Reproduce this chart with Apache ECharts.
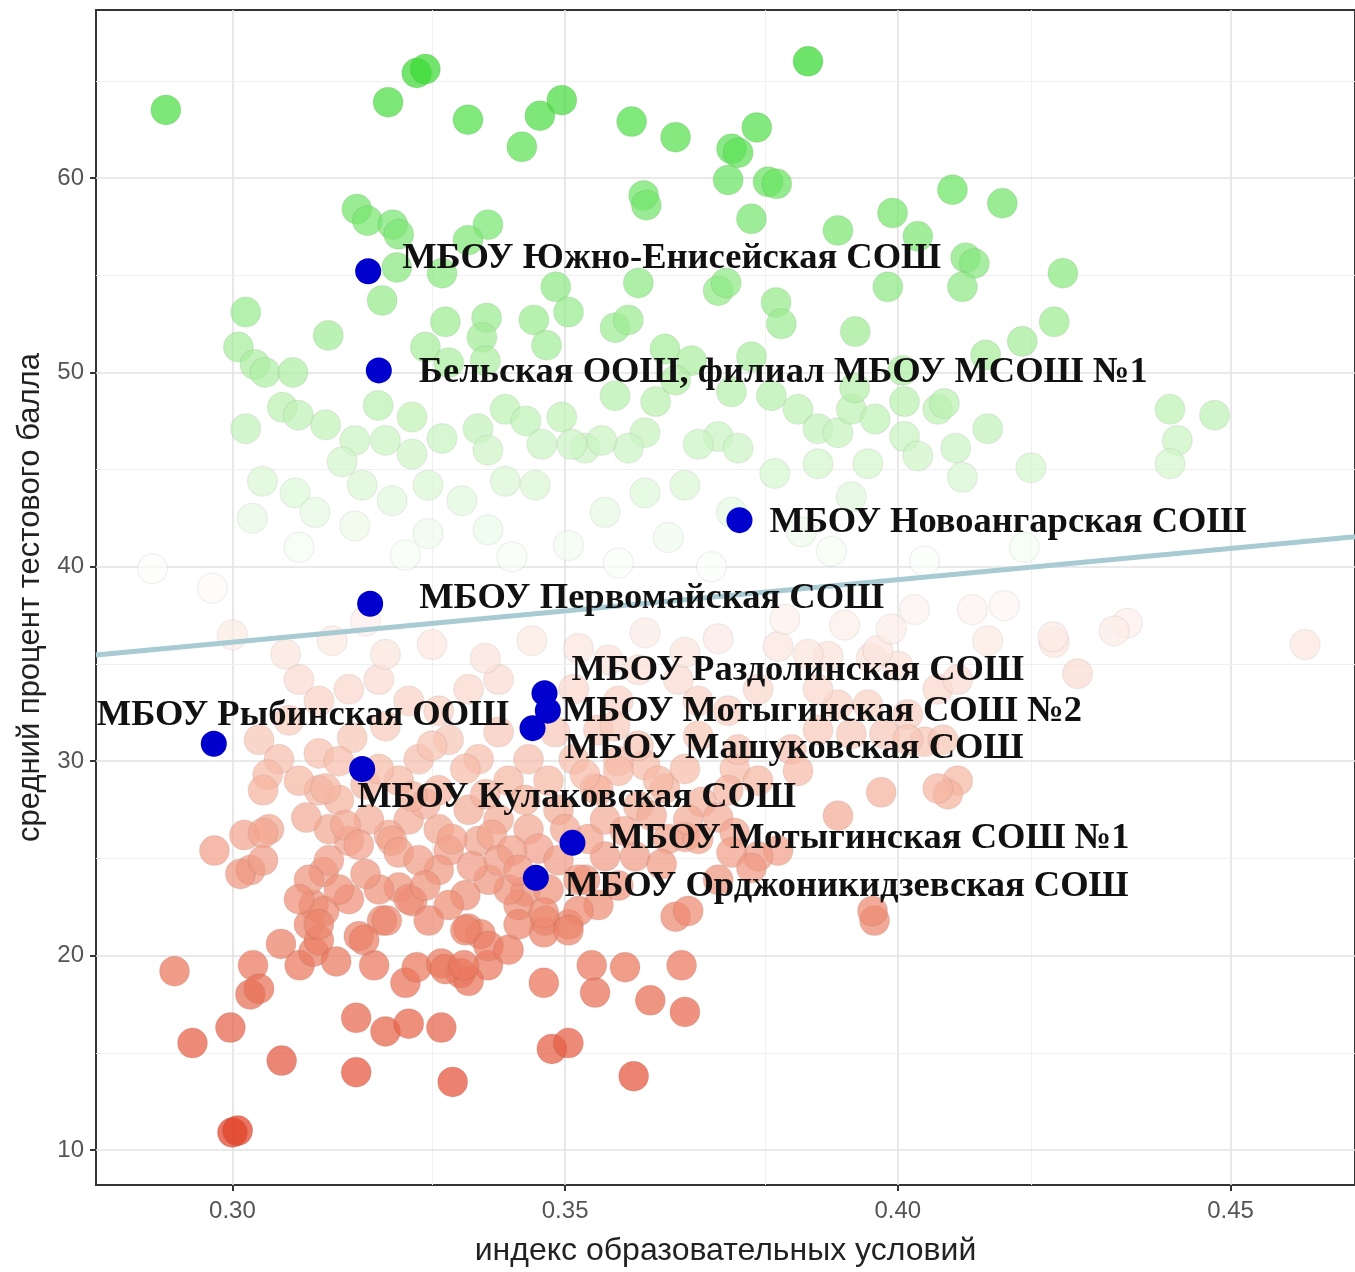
<!DOCTYPE html>
<html><head><meta charset="utf-8">
<script src="https://cdn.jsdelivr.net/npm/echarts@6/dist/echarts.min.js"></script>
<style>html,body{margin:0;padding:0;background:#fff}#chart{width:1355px;height:1272px}</style>
</head><body><div id="chart"></div>
<script>
// ---- data ----
const xTicks = [0.30, 0.35, 0.40, 0.45];
const xMinorTicks = [0.325, 0.375, 0.425];
const yTicks = [10, 20, 30, 40, 50, 60];
const yMinorTicks = [15, 25, 35, 45, 55, 65];
const xRange = [0.2795, 0.4687];
const yRange = [8.2, 68.64];

const pointsHigh = [
[0.2900,63.5],[0.3277,65.4],[0.3290,65.6],[0.3234,63.9],[0.3354,63.0],[0.3462,63.2],[0.3495,64.0],[0.3435,61.6],
[0.3600,62.9],[0.3666,62.1],[0.3788,62.6],[0.3750,61.5],[0.3760,61.3],[0.3865,66.0],[0.3618,59.1],[0.3622,58.6],
[0.3745,59.9],[0.3805,59.8],[0.3818,59.7],[0.3780,57.9],[0.3187,58.4],[0.3203,57.8],[0.3241,57.6],[0.3250,57.1],
[0.3384,57.6],[0.3354,56.8],[0.3910,57.3],[0.3992,58.2],[0.4030,57.0],[0.4082,59.4],[0.4157,58.7],[0.4102,55.9],
[0.4115,55.6],[0.4097,54.4],[0.4248,55.1],[0.4235,52.6],[0.4187,51.6],[0.4132,50.9],[0.3247,55.4],[0.3315,55.1],
[0.3225,53.7],[0.3020,53.1],[0.3144,51.9],[0.3320,52.6],[0.3382,52.8],[0.3009,51.3],[0.3034,50.4],[0.3049,50.0],
[0.3091,50.0],[0.3290,51.3],[0.3375,51.8],[0.3380,50.6],[0.3486,54.4],[0.3610,54.6],[0.3730,54.2],[0.3742,54.6],
[0.3817,53.6],[0.3825,52.5],[0.3985,54.4],[0.3936,52.1],[0.3453,52.7],[0.3505,53.1],[0.3575,52.3],[0.3595,52.7],
[0.3472,51.4],[0.3650,51.2],[0.3690,50.6],[0.3780,50.8],[0.3325,50.5],[0.4007,50.1]
];
const pointsUpperMid = [
[0.3219,48.3],[0.3270,47.7],[0.3315,46.6],[0.3369,47.1],[0.3410,48.1],[0.3075,48.2],[0.3099,47.8],[0.3140,47.3],
[0.3020,47.1],[0.3184,46.5],[0.3230,46.5],[0.3165,45.4],[0.3270,45.8],[0.3384,46.0],[0.3045,44.4],[0.3094,43.8],
[0.3124,42.8],[0.3195,44.2],[0.3240,43.4],[0.3294,44.2],[0.3345,43.4],[0.3410,44.4],[0.3030,42.5],[0.3184,42.1],
[0.3294,41.7],[0.3384,41.9],[0.2880,39.9],[0.2970,38.9],[0.3441,47.5],[0.3495,47.7],[0.3530,46.1],[0.3575,48.8],
[0.3636,48.5],[0.3666,49.6],[0.3750,49.0],[0.3810,48.8],[0.3850,48.1],[0.3880,47.1],[0.3910,46.9],[0.3930,48.1],
[0.3935,49.2],[0.3966,47.6],[0.4010,48.5],[0.4010,46.7],[0.4060,48.1],[0.3730,46.7],[0.3760,46.1],[0.3700,46.3],
[0.3620,46.9],[0.3595,46.1],[0.3555,46.5],[0.3510,46.3],[0.3465,46.3],[0.3455,44.2],[0.3620,43.8],[0.3680,44.2],
[0.3815,44.8],[0.3880,45.3],[0.3955,45.3],[0.4030,45.7],[0.3560,42.8],[0.3750,42.8],[0.3930,43.6],[0.3505,41.1],
[0.3655,41.5],[0.3855,41.8],[0.4135,47.1],[0.4087,46.1],[0.4200,45.1],[0.4409,48.1],[0.4476,47.8],[0.4420,46.5],
[0.4409,45.3],[0.4097,44.6],[0.4070,48.4],[0.3100,41.0],[0.3260,40.6],[0.3420,40.5],[0.3580,40.2],[0.3720,40.0],
[0.3900,40.8],[0.4040,40.3],[0.4190,41.0]
];
const pointsLowerMid = [
[0.4612,36.0],[0.4270,34.5],[0.4345,37.1],[0.4325,36.7],[0.4235,36.1],[0.4160,38.0],[0.4090,29.0],[0.4075,28.3],
[0.3975,28.4],[0.3910,27.2],[0.4060,28.6],[0.3840,30.6],[0.3880,31.6],[0.3930,31.4],[0.3980,31.4],[0.4040,31.0],
[0.3910,32.9],[0.3960,35.3],[0.3895,35.4],[0.3820,35.9],[0.3830,37.3],[0.4025,37.8],[0.3730,36.3],[0.3705,27.9],
[0.3730,27.1],[0.3755,26.3],[0.3650,28.6],[0.3620,29.8],[0.3680,29.6],[0.3755,29.6],[0.3680,26.1],[0.3605,25.1],
[0.3560,25.1],[0.3545,28.6],[0.3580,30.0],[0.4112,37.8],[0.4135,36.2],[0.4233,36.4],[0.4060,33.7],[0.4090,34.2],
[0.4000,34.9],[0.3970,35.7],[0.3865,35.5],[0.3790,33.7],[0.3880,33.7],[0.3955,32.9],[0.4015,32.4],[0.4068,31.1],
[0.4015,31.1],[0.3850,29.5],[0.3790,29.0],[0.3745,28.5],[0.3760,30.6],[0.3700,31.3],[0.3745,32.6],[0.3700,33.1],
[0.3670,34.2],[0.3610,34.7],[0.3565,35.2],[0.3513,33.7],[0.3580,33.1],[0.3550,31.6],[0.3610,30.8],[0.3580,29.5],
[0.3550,28.5],[0.3640,29.0],[0.3610,27.7],[0.3655,26.0],[0.3700,26.0],[0.3685,27.0],[0.3820,25.4],[0.3790,25.1],
[0.3040,31.1],[0.3085,32.1],[0.3130,33.1],[0.3100,34.2],[0.3175,33.7],[0.3220,34.2],[0.3265,33.1],[0.3310,32.6],
[0.3355,33.7],[0.3400,34.2],[0.3325,31.1],[0.3370,30.1],[0.3280,30.1],[0.3250,29.0],[0.3310,28.5],[0.3415,29.0],
[0.3445,30.1],[0.3475,29.0],[0.3513,30.1],[0.3490,27.5],[0.3445,26.5],[0.3535,26.0],[0.3400,27.0],[0.3355,27.5],
[0.3310,26.5],[0.3265,27.0],[0.3235,26.2],[0.3205,27.0],[0.3175,25.9],[0.3145,26.5],[0.3160,28.0],[0.3130,28.5],
[0.3100,29.0],[0.3070,30.1],[0.3053,29.3],[0.3046,28.5],[0.3055,26.5],[0.3018,26.2],[0.2973,25.4],[0.3046,26.3],
[0.3111,27.1],[0.3140,28.6],[0.3130,30.4],[0.3170,26.7],[0.3190,25.7],[0.3240,25.9],[0.3370,25.9],[0.3325,25.4],
[0.3000,36.5],[0.3080,35.5],[0.3150,36.2],[0.3230,35.5],[0.3300,36.0],[0.3380,35.3],[0.3450,36.2],[0.3520,35.8],
[0.3620,36.6],[0.3680,35.6],[0.3920,37.0],[0.3990,36.8],[0.3200,37.2],
[0.3180,31.2],[0.3230,31.8],[0.3300,30.8],[0.3350,29.6],[0.3400,31.5],[0.3440,28.0],[0.3380,28.3],[0.3290,27.8],
[0.3200,28.8],[0.3160,30.0],[0.3220,29.6],[0.3270,28.2],[0.3330,26.0],[0.3390,26.2],[0.3460,25.5],[0.3500,26.5],
[0.3420,25.4],[0.3250,25.3],[0.3560,27.0],[0.3530,29.3],[0.3590,26.4],[0.3630,27.2],[0.3575,31.8],[0.3485,31.5]
];
const pointsLow = [
[0.2913,19.2],[0.2940,15.5],[0.2997,16.3],[0.3027,18.0],[0.3031,19.5],[0.3074,14.6],[0.3000,10.9],[0.3008,11.0],
[0.3027,24.4],[0.3012,24.2],[0.3046,24.9],[0.3073,20.6],[0.3101,19.5],[0.3122,20.2],[0.3130,20.8],[0.3156,19.7],
[0.3115,21.6],[0.3122,22.6],[0.3137,24.3],[0.3190,21.0],[0.3225,21.8],[0.3186,16.8],[0.3230,16.1],[0.3265,16.5],
[0.3314,16.3],[0.3186,14.0],[0.3331,13.5],[0.3260,18.6],[0.3277,19.4],[0.3314,19.6],[0.3343,19.1],[0.3384,19.5],
[0.3354,21.4],[0.3373,21.1],[0.3250,23.5],[0.3270,22.8],[0.3213,19.5],[0.3468,18.6],[0.3545,18.1],[0.3540,19.5],
[0.3590,19.4],[0.3628,17.7],[0.3480,15.2],[0.3505,15.5],[0.3603,13.8],[0.3675,19.5],[0.3680,17.1],[0.3666,22.0],
[0.3965,21.8],[0.3962,22.3],[0.3470,21.8],[0.3505,21.6],[0.3440,23.3],[0.3530,23.9],[0.3750,25.3],[0.3780,24.5],
[0.3730,23.9],[0.3685,22.3],[0.3645,24.7],[0.3580,23.6],[0.3550,22.6],[0.3520,22.3],[0.3468,21.2],[0.3430,22.6],
[0.3415,23.4],[0.3385,23.9],[0.3350,23.1],[0.3325,22.6],[0.3295,21.8],[0.3350,21.3],[0.3385,20.5],[0.3415,20.3],
[0.3310,24.4],[0.3280,24.9],[0.3400,24.9],[0.3430,24.4],[0.3490,24.9],[0.3475,23.4],[0.3520,23.9],[0.3145,24.9],
[0.3115,23.9],[0.3138,22.3],[0.3100,22.9],[0.3175,22.9],[0.3220,23.4],[0.3265,22.9],[0.3232,21.8],[0.3198,20.8],
[0.3130,21.6],[0.3430,21.6],[0.3505,21.3],[0.3468,22.2],[0.3040,18.3],[0.3355,18.7],[0.3320,19.3],[0.3348,19.5],
[0.3360,24.6],[0.3290,23.6],[0.3200,24.2],[0.3160,23.4]
];

const schoolNames = [
  'МБОУ Южно-Енисейская СОШ',
  'Бельская ООШ, филиал МБОУ МСОШ №1',
  'МБОУ Новоангарская СОШ',
  'МБОУ Первомайская СОШ',
  'МБОУ Раздолинская СОШ',
  'МБОУ Мотыгинская СОШ №2',
  'МБОУ Машуковская СОШ',
  'МБОУ Рыбинская ООШ',
  'МБОУ Кулаковская СОШ',
  'МБОУ Мотыгинская СОШ №1',
  'МБОУ Орджоникидзевская СОШ'
];
const schoolX = [0.3204, 0.3220, 0.3762, 0.3207, 0.3469, 0.3474, 0.3451, 0.2972, 0.3195, 0.3511, 0.3456];
const schoolY = [55.2, 50.1, 42.4, 38.1, 33.5, 32.6, 31.7, 30.9, 29.6, 25.8, 24.0];

const trendLine = [[0.2795, 35.46], [0.4687, 41.55]];

// ---- layout / style (not data) ----
const labelOffsets = [[34,-13],[40,2],[30,2],[49,-5],[27,-23],[14,1],[32,20],[-117,-28],[-5,29],[37,-4],[29,9]];
const colorStops = ['#e03a20', '#ea7a60', '#f6bca9', '#ffffff', '#b3efa8', '#6ee466', '#21d61a'];

const chart = echarts.init(document.getElementById('chart'));
const allPoints = [].concat(pointsHigh, pointsUpperMid, pointsLowerMid, pointsLow);

const gridLines = [];
xTicks.forEach(v => gridLines.push({xAxis: v, lineStyle: {color: '#e2e2e2', width: 1.6, type: 'solid'}}));
xMinorTicks.forEach(v => gridLines.push({xAxis: v, lineStyle: {color: '#f0f0f0', width: 1, type: 'solid'}}));
yTicks.forEach(v => gridLines.push({yAxis: v, lineStyle: {color: '#e2e2e2', width: 1.6, type: 'solid'}}));
yMinorTicks.forEach(v => gridLines.push({yAxis: v, lineStyle: {color: '#f0f0f0', width: 1, type: 'solid'}}));

const schoolData = schoolNames.map((n, i) => ({
  name: n,
  value: [schoolX[i], schoolY[i]],
  label: {offset: labelOffsets[i]}
}));

const axisFont = 'Liberation Sans, Arial, sans-serif';
chart.setOption({
  animation: false,
  grid: {left: 96, top: 10, width: 1262, height: 1175, show: true, borderColor: '#333', borderWidth: 2, backgroundColor: '#fff'},
  xAxis: {
    type: 'value', min: xRange[0], max: xRange[1],
    name: 'индекс образовательных условий', nameLocation: 'middle', nameGap: 50,
    nameTextStyle: {fontFamily: axisFont, fontSize: 32, color: '#222'},
    axisLine: {show: false},
    axisTick: {show: true, customValues: xTicks, length: 6, lineStyle: {color: '#333', width: 2}},
    axisLabel: {customValues: xTicks, formatter: v => v.toFixed(2), fontFamily: axisFont, fontSize: 24, color: '#555', margin: 14},
    splitLine: {show: false}
  },
  yAxis: {
    type: 'value', min: yRange[0], max: yRange[1],
    name: 'средний процент тестового балла', nameLocation: 'middle', nameGap: 50, nameRotate: 90,
    nameTextStyle: {fontFamily: axisFont, fontSize: 31, color: '#222'},
    axisLine: {show: false},
    axisTick: {show: true, customValues: yTicks, length: 6, lineStyle: {color: '#333', width: 2}},
    axisLabel: {customValues: yTicks, fontFamily: axisFont, fontSize: 24, color: '#555', margin: 12},
    splitLine: {show: false}
  },
  visualMap: {
    show: false, type: 'continuous', dimension: 1, seriesIndex: 1,
    min: 10, max: 69,
    inRange: {color: colorStops}
  },
  series: [
    {
      type: 'line', data: [], z: 0, silent: true,
      markLine: {z: 0, silent: true, symbol: ['none', 'none'], label: {show: false}, animation: false, data: gridLines}
    },
    {
      type: 'scatter', data: allPoints, symbolSize: 30, z: 2, silent: true,
      itemStyle: {opacity: 0.72, borderColor: 'rgba(0,0,0,0.07)', borderWidth: 1.5}
    },
    {
      type: 'line', data: trendLine, z: 3, showSymbol: false, symbol: 'none', silent: true,
      lineStyle: {color: '#a8cad3', width: 5}
    },
    {
      type: 'scatter', data: schoolData, symbolSize: 26, z: 4,
      itemStyle: {color: '#0000cd', opacity: 1},
      label: {
        show: true, position: 'inside', align: 'left', verticalAlign: 'middle',
        formatter: p => p.name,
        fontFamily: 'Liberation Serif, Times New Roman, serif', fontWeight: 'bold', fontSize: 36.5, color: '#111'
      }
    }
  ]
});
</script></body></html>
